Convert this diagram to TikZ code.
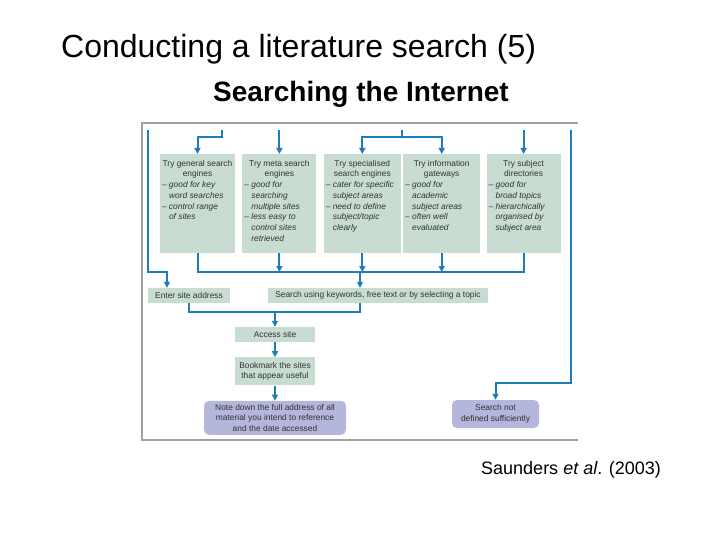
\documentclass[tikz,border=0pt]{standalone}
\usepackage{fontspec}
\setmainfont{Liberation Sans}
\usepackage{xcolor}
\usetikzlibrary{arrows.meta, positioning}
\definecolor{boxgreen}{RGB}{201,220,210}
\definecolor{flowblue}{RGB}{28,125,186}
\definecolor{notelilac}{RGB}{180,182,220}
\definecolor{framegray}{RGB}{160,160,160}
\definecolor{boxtext}{RGB}{50,50,50}
\newcommand{\dsh}{\par\hangindent=7pt\hangafter=1\noindent\makebox[7pt][l]{--}}
\newcommand{\trytext}[3]{\parbox[t][87pt][t]{#1}{\centering #2\par\raggedright\itshape\let\\\newline #3\par}}

\begin{document}
\begin{tikzpicture}[x=1pt, y=-1pt,
    topbox/.style={fill=boxgreen, anchor=north, inner xsep=2pt, inner ysep=6pt,
                   minimum height=99pt, text=boxtext, font=\fontsize{8.4}{10.7}\selectfont},
    stepbox/.style={fill=boxgreen, inner sep=1pt, minimum height=15pt, align=center,
                    text=boxtext, font=\fontsize{8.4}{10.7}\selectfont},
    notebox/.style={fill=notelilac, rounded corners=5pt, inner sep=1pt, align=center,
                    text=boxtext, font=\fontsize{8.4}{10.7}\selectfont},
    line/.style={flowblue, line width=2pt},
    flow/.style={line, -{Triangle[length=6pt, width=6pt]}},
    frame/.style={framegray, line width=1.3pt},
]
\useasboundingbox (0,0) rectangle (720,540);

\node[anchor=west, inner sep=0, font=\fontsize{32}{36}\selectfont] (title) at (61,49) {Conducting a literature search (5)};
\node[anchor=west, inner sep=0, font=\fontsize{28}{32}\selectfont\bfseries] (sub) at (213,94) {Searching the Internet};
\node[anchor=west, inner sep=0, font=\fontsize{18}{22}\selectfont] (cite) at (481,470) {Saunders \textit{et al}. (2003)};

\draw[frame] (578,123) -- (142,123) -- (142,440) -- (578,440);

\node[topbox, minimum width=75pt] (gen) at (197.5,154) {\trytext{71pt}{Try general search\\engines}{\dsh good for key\\word searches\dsh control range\\of sites}};
\node[topbox, minimum width=74pt, right=7pt of gen] (meta) {\trytext{70pt}{Try meta search\\engines}{\dsh good for\\searching\\multiple sites\dsh less easy to\\control sites\\retrieved}};
\node[topbox, minimum width=77pt, right=7pt of meta] (spec) {\trytext{73pt}{Try specialised\\search engines}{\dsh cater for specific\\subject areas\dsh need to define\\subject/topic\\clearly}};
\node[topbox, minimum width=77pt, right=2pt of spec] (gate) {\trytext{73pt}{Try information\\gateways}{\dsh good for\\academic\\subject areas\dsh often well\\evaluated}};
\node[topbox, minimum width=74pt, right=6pt of gate] (dir) {\trytext{70pt}{Try subject\\directories}{\dsh good for\\broad topics\dsh hierarchically\\organised by\\subject area}};

\node[stepbox, minimum width=82pt] (enter) at (189,295.5) {Enter site address};
\node[stepbox, minimum width=220pt] (srch) at (378,295.5) {Search using keywords, free text or by selecting a topic};
\node[stepbox, minimum width=80pt] (acc) at (275,334.5) {Access site};
\node[stepbox, minimum width=80pt, minimum height=28pt, below=15pt of acc] (bmk) {Bookmark the sites\\that appear useful};
\node[notebox, minimum width=142pt, minimum height=34pt, below=15pt of bmk] (note) {Note down the full address of all\\material you intend to reference\\and the date accessed};
\node[notebox, minimum width=87pt, minimum height=28pt] (nsuf) at (495.5,414) {Search not\\defined sufficiently};

\coordinate (in1) at (222,130);
\coordinate (in2) at (meta.north |- in1);
\coordinate (in3) at (402,130);
\coordinate (in5) at (dir.north |- in1);
\coordinate (railL) at (148,130);
\coordinate (railR) at (571,130);
\coordinate (split) at (402,137);
\coordinate (mid) at (360,272);
\coordinate (join) at (acc.north |- 0,312);

\draw[flow] (in1) |- ([yshift=17pt]gen.north) -- (gen.north);
\draw[flow] (in2) -- (meta.north);
\draw[line] (in3) -- (split);
\draw[flow] (split) -| (spec.north);
\draw[flow] (split) -| (gate.north);
\draw[flow] (in5) -- (dir.north);

\draw[line] (gen.south) |- (mid) -| (dir.south);
\draw[flow] (meta.south) -- (meta.south |- mid);
\draw[flow] (spec.south) -- (spec.south |- mid);
\draw[flow] (gate.south) -- (gate.south |- mid);
\draw[flow] (mid) -- (mid |- srch.north);

\draw[flow] (railL) -- (railL |- mid) -| ([xshift=-22pt]enter.north);
\draw[flow] (railR) |- ([yshift=17pt]nsuf.north) -- (nsuf.north);

\draw[line] (enter.south) |- (join) -| (mid |- srch.south);
\draw[flow] (join) -- (acc);
\draw[flow] (acc) -- (bmk);
\draw[flow] (bmk) -- (note);
\end{tikzpicture}
\end{document}
